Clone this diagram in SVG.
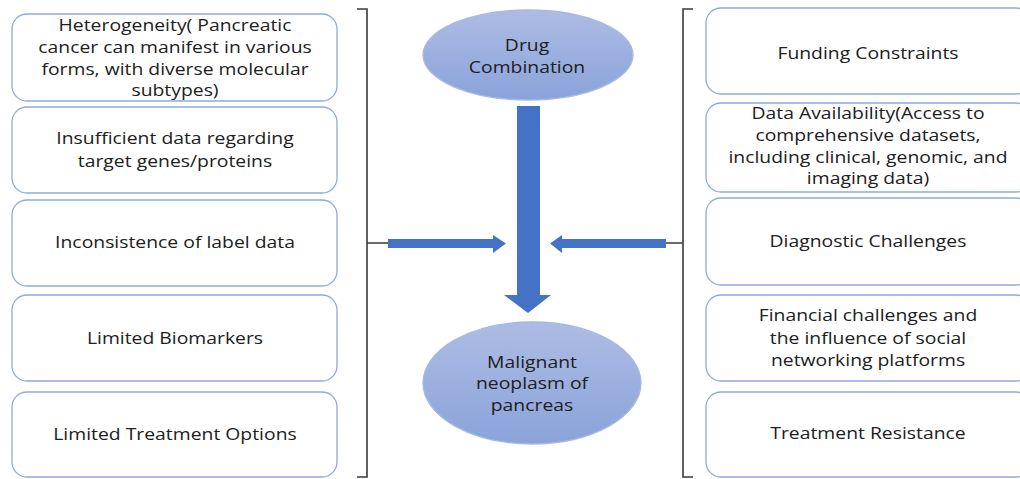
<svg xmlns="http://www.w3.org/2000/svg" width="1020" height="479" viewBox="0 0 1020 479">
<defs>
<linearGradient id="eg" x1="0" y1="0" x2="0" y2="1">
<stop offset="0" stop-color="#aebce3"/>
<stop offset="1" stop-color="#8aa3da"/>
</linearGradient>
</defs>
<style>
.box{fill:#fff;stroke:#8faadc;stroke-width:1.3}
.ell{fill:url(#eg);stroke:#a7b9e2;stroke-width:1.3}
text{font-family:"Open Sans","Liberation Sans",sans-serif;font-size:16px;font-weight:500;fill:#202020;text-anchor:middle}
.br{fill:none;stroke:#3a3a3a;stroke-width:1.6}
.ar{fill:#4472c4}
</style>
<rect width="1020" height="479" fill="#fff"/>
<g id="left1"><rect class="box" x="12" y="14" width="325" height="87" rx="15"/>
<g transform="translate(175 0) scale(1.21 1)"><text x="0" y="31">Heterogeneity( Pancreatic</text><text x="0" y="53">cancer can manifest in various</text><text x="0" y="75">forms, with diverse molecular</text><text x="0" y="96">subtypes)</text></g></g>
<g id="left2"><rect class="box" x="12" y="107" width="325" height="86" rx="15"/>
<g transform="translate(175 0) scale(1.21 1)"><text x="0" y="144">Insufficient data regarding</text><text x="0" y="167">target genes/proteins</text></g></g>
<g id="left3"><rect class="box" x="12" y="200" width="325" height="86" rx="15"/>
<g transform="translate(175 0) scale(1.21 1)"><text x="0" y="248">Inconsistence of label data</text></g></g>
<g id="left4"><rect class="box" x="12" y="295" width="325" height="86" rx="15"/>
<g transform="translate(175 0) scale(1.21 1)"><text x="0" y="344">Limited Biomarkers</text></g></g>
<g id="left5"><rect class="box" x="12" y="392" width="325" height="85" rx="15"/>
<g transform="translate(175 0) scale(1.21 1)"><text x="0" y="440">Limited Treatment Options</text></g></g>
<g id="right1"><rect class="box" x="706" y="8" width="325" height="86" rx="15"/>
<g transform="translate(868 0) scale(1.21 1)"><text x="0" y="59">Funding Constraints</text></g></g>
<g id="right2"><rect class="box" x="706" y="103" width="325" height="89" rx="15"/>
<g transform="translate(868 0) scale(1.21 1)"><text x="0" y="119">Data Availability(Access to</text><text x="0" y="141">comprehensive datasets,</text><text x="0" y="163">including clinical, genomic, and</text><text x="0" y="184">imaging data)</text></g></g>
<g id="right3"><rect class="box" x="706" y="198" width="325" height="87" rx="15"/>
<g transform="translate(868 0) scale(1.21 1)"><text x="0" y="247">Diagnostic Challenges</text></g></g>
<g id="right4"><rect class="box" x="706" y="295" width="325" height="86" rx="15"/>
<g transform="translate(868 0) scale(1.21 1)"><text x="0" y="321">Financial challenges and</text><text x="0" y="344">the influence of social</text><text x="0" y="366">networking platforms</text></g></g>
<g id="right5"><rect class="box" x="706" y="392" width="325" height="85" rx="15"/>
<g transform="translate(868 0) scale(1.21 1)"><text x="0" y="439">Treatment Resistance</text></g></g>
<g id="drug"><ellipse class="ell" cx="528" cy="55" rx="105" ry="45"/>
<g transform="translate(527 0) scale(1.21 1)"><text x="0" y="51">Drug</text><text x="0" y="73">Combination</text></g></g>
<g id="malignant"><ellipse class="ell" cx="532" cy="383" rx="109" ry="61"/>
<g transform="translate(532 0) scale(1.21 1)"><text x="0" y="368">Malignant</text><text x="0" y="389">neoplasm of</text><text x="0" y="411">pancreas</text></g></g>
<g id="connectors">
<path class="br" d="M357 9H367V477H357M367 243H388"/>
<path class="br" d="M693 9H683V477H693M683 243H666"/>
<polygon class="ar" points="517,106 540,106 540,295 551,295 528,313 504,295 517,295"/>
<polygon class="ar" points="388,239 493,239 493,235 506,243.5 493,253 493,248 388,248"/>
<polygon class="ar" points="666,239 562,239 562,235 550,243.5 562,253 562,248 666,248"/>
</g>
</svg>
